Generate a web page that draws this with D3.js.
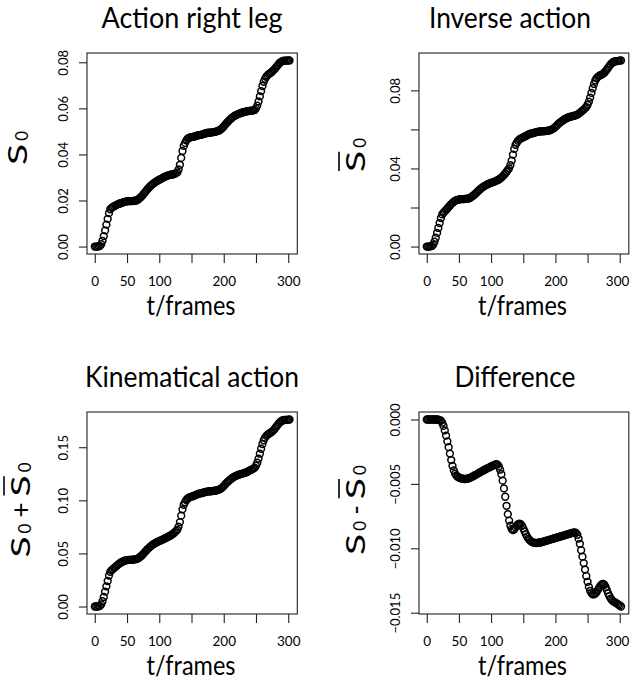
<!DOCTYPE html>
<html>
<head>
<meta charset="utf-8">
<script src="https://cdn.jsdelivr.net/npm/d3@7"></script>
<style>
  body { margin: 0; background: #fff; }
  text { font-family: Lato, "Open Sans", sans-serif; fill: #000; }
</style>
</head>
<body>
<script>
// one value every 2nd frame, values in units of 1e-5
const frames = d3.range(0, 304, 2);

const actionRightLeg = [
  0,0,0,10,30,100,250,450,700,950,
  1200,1450,1620,1680,1720,1750,1780,1810,1840,1860,
  1880,1900,1920,1940,1950,1960,1970,1970,1970,1970,
  1980,1990,2000,2020,2060,2110,2160,2220,2290,2360,
  2430,2500,2560,2620,2670,2720,2760,2800,2840,2870,
  2900,2930,2960,2990,3020,3050,3070,3090,3110,3120,
  3130,3140,3160,3190,3220,3350,3550,3850,4150,4370,
  4500,4610,4680,4720,4740,4750,4760,4770,4790,4810,
  4830,4840,4850,4860,4880,4900,4920,4930,4940,4950,
  4950,4960,4970,4980,4990,5010,5030,5060,5100,5150,
  5210,5280,5350,5410,5470,5520,5570,5620,5660,5690,
  5720,5750,5770,5790,5810,5830,5850,5860,5870,5880,
  5890,5900,5900,5910,5930,6000,6120,6300,6520,6750,
  6970,7150,7280,7370,7440,7490,7530,7570,7620,7680,
  7740,7810,7880,7950,8000,8040,8060,8070,8070,8070,
  8080,8080
];

const inverseAction = [
  0,0,0,10,30,100,250,450,700,952,
  1205,1460,1645,1730,1805,1875,1950,2025,2105,2175,
  2240,2295,2340,2375,2395,2410,2425,2428,2430,2432,
  2442,2451,2458,2475,2511,2556,2601,2655,2720,2784,
  2848,2912,2967,3021,3066,3110,3145,3180,3215,3240,
  3265,3290,3315,3340,3367,3400,3435,3480,3535,3595,
  3665,3740,3830,3925,4005,4175,4400,4708,5002,5208,
  5322,5422,5488,5532,5565,5595,5628,5660,5700,5735,
  5767,5786,5802,5816,5838,5859,5878,5887,5895,5903,
  5900,5907,5914,5921,5928,5945,5962,5989,6026,6073,
  6130,6197,6264,6321,6378,6425,6472,6519,6556,6583,
  6610,6637,6654,6671,6688,6707,6730,6755,6795,6845,
  6905,6965,7015,7075,7145,7260,7420,7630,7868,8107,
  8328,8502,8620,8693,8745,8780,8810,8847,8903,8980,
  9065,9160,9252,9340,9403,9452,9478,9494,9500,9507,
  9524,9532
];

const kinematicalAction = [
  0,0,0,20,60,200,500,900,1400,1902,
  2405,2910,3265,3410,3525,3625,3730,3835,3945,4035,
  4120,4195,4260,4315,4345,4370,4395,4398,4400,4402,
  4422,4441,4458,4495,4571,4666,4761,4875,5010,5144,
  5278,5412,5527,5641,5736,5830,5905,5980,6055,6110,
  6165,6220,6275,6330,6387,6450,6505,6570,6645,6715,
  6795,6880,6990,7115,7225,7525,7950,8558,9152,9578,
  9822,10032,10168,10252,10305,10345,10388,10430,10490,10545,
  10597,10626,10652,10676,10718,10759,10798,10817,10835,10853,
  10850,10867,10884,10901,10918,10955,10992,11049,11126,11223,
  11340,11477,11614,11731,11848,11945,12042,12139,12216,12273,
  12330,12387,12424,12461,12498,12537,12580,12615,12665,12725,
  12795,12865,12915,12985,13075,13260,13540,13930,14388,14857,
  15298,15652,15900,16063,16185,16270,16340,16417,16523,16660,
  16805,16970,17132,17290,17403,17492,17538,17564,17570,17577,
  17604,17612
];

const difference = [
  0,0,0,0,0,0,0,0,0,-2,
  -5,-10,-25,-50,-85,-125,-170,-215,-265,-315,
  -360,-395,-420,-435,-445,-450,-455,-458,-460,-462,
  -462,-461,-458,-455,-451,-446,-441,-435,-430,-424,
  -418,-412,-407,-401,-396,-390,-385,-380,-375,-370,
  -365,-360,-355,-350,-347,-350,-365,-390,-425,-475,
  -535,-600,-670,-735,-785,-825,-850,-858,-852,-838,
  -822,-812,-808,-812,-825,-845,-868,-890,-910,-925,
  -937,-946,-952,-956,-958,-959,-958,-957,-955,-953,
  -950,-947,-944,-941,-938,-935,-932,-929,-926,-923,
  -920,-917,-914,-911,-908,-905,-902,-899,-896,-893,
  -890,-887,-884,-881,-878,-877,-880,-895,-925,-965,
  -1015,-1065,-1115,-1165,-1215,-1260,-1300,-1330,-1348,-1357,
  -1358,-1352,-1340,-1323,-1305,-1290,-1280,-1277,-1283,-1300,
  -1325,-1350,-1372,-1390,-1403,-1412,-1418,-1424,-1430,-1437,
  -1444,-1452
];
const UNIT = 1e-5;

const xTicks = [0, 50, 100, 150, 200, 250, 300];
const xTickLabels = ["0", "50", "100", "", "200", "", "300"];

const titles = ["Action right leg", "Inverse action", "Kinematical action", "Difference"];

const yTicks1 = [0, 0.02, 0.04, 0.06, 0.08];
const yLabels1 = ["0.00", "0.02", "0.04", "0.06", "0.08"];
const yTicks2 = [0, 0.02, 0.04, 0.06, 0.08];
const yLabels2 = ["0.00", "", "0.04", "", "0.08"];
const yTicks3 = [0, 0.05, 0.10, 0.15];
const yLabels3 = ["0.00", "0.05", "0.10", "0.15"];
const yTicks4 = [0, -0.005, -0.010, -0.015];
const yLabels4 = ["0.000", "\u22120.005", "\u22120.010", "\u22120.015"];

const width = 630;
const height = 686;

const svg = d3.select("body").append("svg")
  .attr("width", width)
  .attr("height", height);

const panels = [
  { title: titles[0], values: actionRightLeg, yTicks: yTicks1, yLabels: yLabels1,
    ylab: [{t: "S"}, {t: "0", sub: true}],
    box: {x0: 87, x1: 297.3, y0: 53, y1: 254},
    titlePos: [192, 28, 181], xlabPos: [191, 315], ylabPos: [27, 148] },
  { title: titles[1], values: inverseAction, yTicks: yTicks2, yLabels: yLabels2,
    ylab: [{t: "S", bar: true}, {t: "0", sub: true}],
    box: {x0: 419, x1: 628.8, y0: 53, y1: 254},
    titlePos: [510, 28, 162], xlabPos: [522.5, 315], ylabPos: [365, 155] },
  { title: titles[2], values: kinematicalAction, yTicks: yTicks3, yLabels: yLabels3,
    ylab: [{t: "S"}, {t: "0", sub: true}, {t: "+", op: true}, {t: "S", bar: true}, {t: "0", sub: true}],
    box: {x0: 87, x1: 297.3, y0: 412, y1: 614},
    titlePos: [192, 387, 214], xlabPos: [191, 675], ylabPos: [30, 510] },
  { title: titles[3], values: difference, yTicks: yTicks4, yLabels: yLabels4,
    ylab: [{t: "S"}, {t: "0", sub: true}, {t: "-", op: true}, {t: "S", bar: true}, {t: "0", sub: true}],
    box: {x0: 419, x1: 628.8, y0: 412, y1: 614},
    titlePos: [515, 387, 121], xlabPos: [522.5, 675], ylabPos: [365, 510] }
];

// R style range: data extent plus 4% each side
function padded(ext) {
  const d = (ext[1] - ext[0]) * 0.04;
  return [ext[0] - d, ext[1] + d];
}

panels.forEach(p => drawPanel(p));

function drawPanel(p) {
  const b = p.box;
  const vals = p.values.map(v => v * UNIT);

  const x = d3.scaleLinear()
    .domain(padded(d3.extent(frames)))
    .range([b.x0, b.x1]);
  const y = d3.scaleLinear()
    .domain(padded(d3.extent(vals)))
    .range([b.y1, b.y0]);

  const g = svg.append("g");

  // points (open circles)
  g.append("g").selectAll("circle")
    .data(vals)
    .enter()
    .append("circle")
    .attr("cx", (d, i) => x(frames[i]))
    .attr("cy", d => y(d))
    .attr("r", 3.4)
    .attr("fill", "none")
    .attr("stroke", "#000")
    .attr("stroke-width", 1.5);

  // box
  g.append("rect")
    .attr("x", b.x0).attr("y", b.y0)
    .attr("width", b.x1 - b.x0).attr("height", b.y1 - b.y0)
    .attr("fill", "none")
    .attr("stroke", "#222")
    .attr("stroke-width", 1.1);

  // x axis
  const xaxis = d3.axisBottom(x)
    .tickValues(xTicks)
    .tickSize(9)
    .tickFormat((d, i) => xTickLabels[i]);
  const gx = g.append("g")
    .attr("transform", `translate(0, ${b.y1})`)
    .call(xaxis);
  gx.select(".domain").remove();
  gx.selectAll("line").attr("stroke", "#222").attr("stroke-width", 1.1);
  gx.selectAll("text")
    .attr("y", 32).attr("dy", 0)
    .style("font-size", "13.5px");
  // keep labels inside the page edge
  gx.selectAll(".tick").each(function() {
    const t = d3.select(this).select("text");
    const bb = this.getBBox();
    const tx = x(d3.select(this).datum());
    const right = tx + bb.x + bb.width;
    if (right > width - 1) t.attr("x", width - 1 - right);
  });

  // y axis (labels turned like R's las = 0)
  const yaxis = d3.axisLeft(y)
    .tickValues(p.yTicks)
    .tickSize(8)
    .tickFormat((d, i) => p.yLabels[i]);
  const gy = g.append("g")
    .attr("transform", `translate(${b.x0}, 0)`)
    .call(yaxis);
  gy.select(".domain").remove();
  gy.selectAll("line").attr("stroke", "#222").attr("stroke-width", 1.1);
  gy.selectAll("text")
    .attr("transform", "rotate(-90)")
    .attr("x", 0).attr("y", -19).attr("dy", 0)
    .attr("text-anchor", "middle")
    .style("font-size", "13px");

  // title
  g.append("text")
    .attr("x", p.titlePos[0]).attr("y", p.titlePos[1])
    .attr("text-anchor", "middle")
    .attr("textLength", p.titlePos[2])
    .attr("lengthAdjust", "spacingAndGlyphs")
    .style("font-size", "28px")
    .text(p.title);

  // x label
  g.append("text")
    .attr("x", p.xlabPos[0]).attr("y", p.xlabPos[1])
    .attr("text-anchor", "middle")
    .attr("textLength", 89)
    .attr("lengthAdjust", "spacingAndGlyphs")
    .style("font-size", "27px")
    .text("t/frames");

  // y label, built from pieces (rotated, reads upwards)
  const lab = g.append("g")
    .attr("transform", `translate(${p.ylabPos[0]}, ${p.ylabPos[1]}) rotate(-90)`);
  let pos = 0;
  const bars = [];
  const pieces = [];
  p.ylab.forEach(part => {
    const size = part.sub ? 17 : 26;
    const sx = (part.sub || part.op) ? 1 : 1.5;
    if (part.op) pos += 3;
    const t = lab.append("text")
      .style("font-size", size + "px")
      .text(part.t);
    const w = t.node().getComputedTextLength() * sx;
    pieces.push({t: t, x: pos, y: part.sub ? 1 : 0, sx: sx});
    if (part.bar) bars.push([pos + 1, pos + w - 1]);
    pos += w + 3;
    if (part.op) pos += 3;
  });
  pos -= 3;
  pieces.forEach(pc => {
    pc.t.attr("transform", `translate(${pc.x - pos / 2}, ${pc.y}) scale(${pc.sx}, 1)`);
  });
  bars.forEach(bb => {
    lab.append("line")
      .attr("x1", bb[0] - pos / 2).attr("x2", bb[1] - pos / 2)
      .attr("y1", -26).attr("y2", -26)
      .attr("stroke", "#000").attr("stroke-width", 1.6);
  });
}
</script>
</body>
</html>
